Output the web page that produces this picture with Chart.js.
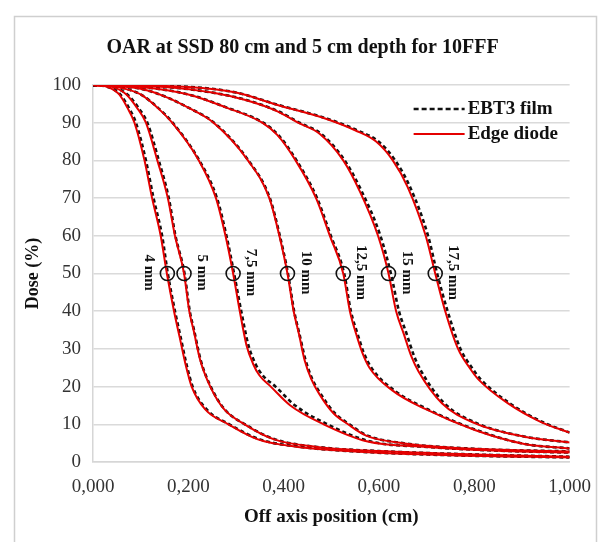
<!DOCTYPE html>
<html>
<head>
<meta charset="utf-8">
<script src="https://cdn.jsdelivr.net/npm/chart.js@4.4.1/dist/chart.umd.min.js"></script>
<style>
  body { margin: 0; background: #fff; }
  canvas { display: block; }
</style>
</head>
<body>
<canvas id="oarChart" width="605" height="542"></canvas>
<script>
// Dose levels (%) per field size, with off-axis positions (cm) for diode and film
const dose4 = [100, 99.5, 97.5, 94, 90, 80, 70, 60, 50, 40, 33, 26, 20, 14, 10, 6, 4, 2.8, 1.8, 1.2];
const diode4 = [0, 0.03, 0.055, 0.072, 0.087, 0.108, 0.124, 0.142, 0.155, 0.170, 0.182, 0.194, 0.207, 0.235, 0.284, 0.346, 0.43, 0.55, 0.75, 1.0];
const film4 = [0, 0.03, 0.057, 0.075, 0.09, 0.111, 0.127, 0.145, 0.157, 0.172, 0.184, 0.196, 0.209, 0.238, 0.286, 0.35, 0.435, 0.55, 0.75, 1.0];

const dose5 = [100, 99.5, 97.5, 94, 90, 80, 70, 60, 50, 40, 35, 27, 20, 14, 10, 6, 4, 2.9, 2, 1.4];
const diode5 = [0, 0.04, 0.07, 0.092, 0.111, 0.135, 0.157, 0.172, 0.191, 0.202, 0.211, 0.225, 0.246, 0.275, 0.318, 0.38, 0.47, 0.6, 0.8, 1.0];
const film5 = [0, 0.04, 0.072, 0.095, 0.114, 0.138, 0.159, 0.173, 0.192, 0.203, 0.212, 0.226, 0.247, 0.276, 0.319, 0.382, 0.47, 0.6, 0.8, 1.0];

const dose75 = [100, 99.5, 97.5, 94, 90, 80, 70, 60, 50, 40, 31, 26, 23, 20, 15, 10, 5.5, 4, 3, 2.5];
const diode75 = [0, 0.05, 0.1, 0.135, 0.166, 0.222, 0.258, 0.278, 0.294, 0.308, 0.322, 0.336, 0.349, 0.373, 0.414, 0.484, 0.574, 0.7, 0.85, 1.0];
const film75 = [0, 0.05, 0.1, 0.136, 0.167, 0.223, 0.26, 0.28, 0.296, 0.311, 0.326, 0.341, 0.356, 0.383, 0.424, 0.492, 0.58, 0.7, 0.85, 1.0];

const dose10 = [100, 99, 97, 94, 90, 80, 70, 60, 50, 40, 34, 27, 22, 18, 13, 10, 7, 5, 3.5, 2.8];
const diode10 = [0, 0.1, 0.15, 0.2, 0.253, 0.325, 0.37, 0.391, 0.408, 0.421, 0.432, 0.444, 0.458, 0.475, 0.504, 0.535, 0.573, 0.65, 0.8, 1.0];
const film10 = [0, 0.1, 0.15, 0.2, 0.254, 0.326, 0.371, 0.392, 0.409, 0.422, 0.433, 0.446, 0.46, 0.478, 0.507, 0.538, 0.576, 0.65, 0.8, 1.0];

const dose125 = [100, 99.5, 97.5, 94, 90, 86.7, 80, 70, 60, 50, 40, 34, 29, 25, 19, 14, 8.5, 4.8, 3.6];
const diode125 = [0, 0.1, 0.2, 0.28, 0.355, 0.387, 0.425, 0.468, 0.497, 0.525, 0.539, 0.552, 0.565, 0.58, 0.628, 0.698, 0.801, 0.905, 1.0];
const film125 = [0, 0.1, 0.2, 0.281, 0.357, 0.389, 0.427, 0.47, 0.499, 0.527, 0.541, 0.555, 0.568, 0.584, 0.632, 0.702, 0.804, 0.905, 1.0];

const dose15 = [100, 99.5, 98, 96, 93, 90, 87, 80, 72, 60, 50, 40, 34, 28, 24, 15.6, 10.3, 6.7, 5.2];
const diode15 = [0, 0.15, 0.25, 0.32, 0.387, 0.43, 0.476, 0.525, 0.559, 0.598, 0.62, 0.636, 0.652, 0.668, 0.683, 0.732, 0.801, 0.905, 1.0];
const film15 = [0, 0.15, 0.25, 0.322, 0.389, 0.433, 0.479, 0.528, 0.563, 0.603, 0.625, 0.642, 0.658, 0.674, 0.689, 0.737, 0.805, 0.907, 1.0];

const dose175 = [100, 99.5, 98, 94.7, 91, 88, 85, 80, 73, 60, 50, 40, 30, 25, 22, 15.6, 10.6, 7.8];
const diode175 = [0, 0.2, 0.3, 0.387, 0.49, 0.55, 0.594, 0.629, 0.66, 0.698, 0.718, 0.739, 0.766, 0.79, 0.808, 0.87, 0.94, 1.0];
const film175 = [0, 0.2, 0.3, 0.389, 0.493, 0.554, 0.599, 0.634, 0.665, 0.703, 0.722, 0.744, 0.771, 0.795, 0.813, 0.874, 0.943, 1.0];

// 50 % crossing markers and their labels
const markLabels = ['4 mm', '5 mm', '7,5 mm', '10 mm', '12,5 mm', '15 mm', '17,5 mm'];
const markX = [0.156, 0.191, 0.294, 0.408, 0.525, 0.62, 0.718];
const markY = [50, 50, 50, 50, 50, 50, 50];

const xTickLabels = ['0,000', '0,200', '0,400', '0,600', '0,800', '1,000'];
const yTicks = [0, 10, 20, 30, 40, 50, 60, 70, 80, 90, 100];

const doseSets = [dose4, dose5, dose75, dose10, dose125, dose15, dose175];
const diodeSets = [diode4, diode5, diode75, diode10, diode125, diode15, diode175];
const filmSets = [film4, film5, film75, film10, film125, film15, film175];

const RED = 'rgb(228, 0, 0)';
const SERIF = "'Liberation Serif', 'Times New Roman', serif";

function toPoints(xs, ys) {
    return xs.map((x, i) => ({ x: x, y: ys[i] }));
}

// Build datasets: markers on top, then diode (red), then film (black dashed)
const datasets = [];
datasets.push({
    label: 'markers',
    data: toPoints(markX, markY),
    showLine: false,
    pointRadius: 7,
    pointHoverRadius: 7,
    pointBorderColor: '#111',
    pointBackgroundColor: 'rgba(0,0,0,0)',
    pointBorderWidth: 1.6
});
diodeSets.forEach((xs, i) => {
    datasets.push({
        label: 'Edge diode ' + markLabels[i],
        data: toPoints(xs, doseSets[i]),
        showLine: true,
        borderColor: RED,
        borderWidth: 2,
        pointRadius: 0,
        cubicInterpolationMode: 'monotone'
    });
});
filmSets.forEach((xs, i) => {
    datasets.push({
        label: 'EBT3 film ' + markLabels[i],
        data: toPoints(xs, doseSets[i]),
        showLine: true,
        borderColor: '#111',
        borderWidth: 2.6,
        borderDash: [4, 3],
        pointRadius: 0,
        cubicInterpolationMode: 'monotone'
    });
});

// Frame, 50% labels and legend drawn on the canvas
const decorations = {
    id: 'decorations',
    beforeDraw(chart) {
        const ctx = chart.ctx;
        ctx.save();
        ctx.fillStyle = '#fff';
        ctx.fillRect(0, 0, chart.width, chart.height);
        ctx.strokeStyle = '#cfcfcf';
        ctx.lineWidth = 1.5;
        ctx.strokeRect(14.5, 16.5, 582, 540);
        ctx.restore();
    },
    afterDatasetsDraw(chart) {
        const ctx = chart.ctx;
        const xs = chart.scales.x;
        const ys = chart.scales.y;
        const area = chart.chartArea;

        ctx.save();
        ctx.fillStyle = '#111';
        ctx.font = 'bold 15px ' + SERIF;
        ctx.textAlign = 'center';
        ctx.textBaseline = 'middle';
        markLabels.forEach((txt, i) => {
            const px = xs.getPixelForValue(markX[i]) + (i === 0 ? -18 : 18);
            const py = ys.getPixelForValue(markY[i]) - 1;
            ctx.save();
            ctx.translate(px, py);
            ctx.rotate(Math.PI / 2);
            ctx.fillText(txt, 0, 0);
            ctx.restore();
        });

        // legend
        const lx0 = area.right - 156;
        const lx1 = area.right - 105;
        const rows = [
            { text: 'EBT3 film', color: '#111', dash: [5, 3], width: 2.6, y: area.top + 24 },
            { text: 'Edge diode', color: RED, dash: [], width: 2, y: area.top + 49 }
        ];
        ctx.font = 'bold 19px ' + SERIF;
        ctx.textAlign = 'left';
        rows.forEach(r => {
            ctx.beginPath();
            ctx.setLineDash(r.dash);
            ctx.strokeStyle = r.color;
            ctx.lineWidth = r.width;
            ctx.moveTo(lx0, r.y);
            ctx.lineTo(lx1, r.y);
            ctx.stroke();
            ctx.setLineDash([]);
            ctx.fillStyle = '#111';
            ctx.fillText(r.text, lx1 + 3, r.y);
        });
        ctx.restore();
    }
};

const ctx = document.getElementById('oarChart').getContext('2d');
const oarChart = new Chart(ctx, {
    type: 'scatter',
    data: { datasets: datasets },
    options: {
        responsive: false,
        animation: false,
        layout: { padding: 0 },
        plugins: {
            legend: { display: false },
            tooltip: { enabled: false },
            title: {
                display: true,
                text: 'OAR at SSD 80 cm and 5 cm depth for 10FFF',
                color: '#111',
                font: { family: SERIF, size: 20, weight: 'bold' },
                padding: { top: 36, bottom: 25 }
            }
        },
        scales: {
            x: {
                type: 'linear',
                min: 0,
                max: 1,
                afterFit: (scale) => { scale.height = 80; },
                afterBuildTicks: (scale) => {
                    scale.ticks = xTickLabels.map((_, i) => ({ value: i * 0.2 }));
                },
                ticks: {
                    color: '#333',
                    padding: 14,
                    maxRotation: 0,
                    font: { family: SERIF, size: 19 },
                    callback: (value, index) => xTickLabels[index]
                },
                grid: { display: false, drawTicks: false },
                border: { display: true, color: '#d6d6d6', width: 1.5 },
                title: {
                    display: true,
                    text: 'Off axis position (cm)',
                    color: '#111',
                    font: { family: SERIF, size: 19, weight: 'bold' },
                    padding: { top: 0, bottom: 14 }
                }
            },
            y: {
                min: 0,
                max: 100,
                afterFit: (scale) => { scale.width = 93; },
                afterBuildTicks: (scale) => {
                    scale.ticks = yTicks.map(v => ({ value: v }));
                },
                ticks: {
                    color: '#333',
                    padding: 12,
                    font: { family: SERIF, size: 19 }
                },
                grid: { color: '#dadada', lineWidth: 1.5, drawTicks: false },
                border: { display: true, color: '#d6d6d6', width: 1.5 },
                title: {
                    display: true,
                    text: 'Dose (%)',
                    color: '#111',
                    font: { family: SERIF, size: 18, weight: 'bold' },
                    padding: { top: 23, bottom: 0 }
                }
            },
            // empty right-hand margin so the title centres on the whole figure
            spacer: {
                position: 'right',
                display: true,
                afterFit: (scale) => { scale.width = 29; },
                ticks: { display: false },
                grid: { display: false, drawTicks: false },
                border: { display: false }
            }
        }
    },
    plugins: [decorations]
});
</script>
</body>
</html>
